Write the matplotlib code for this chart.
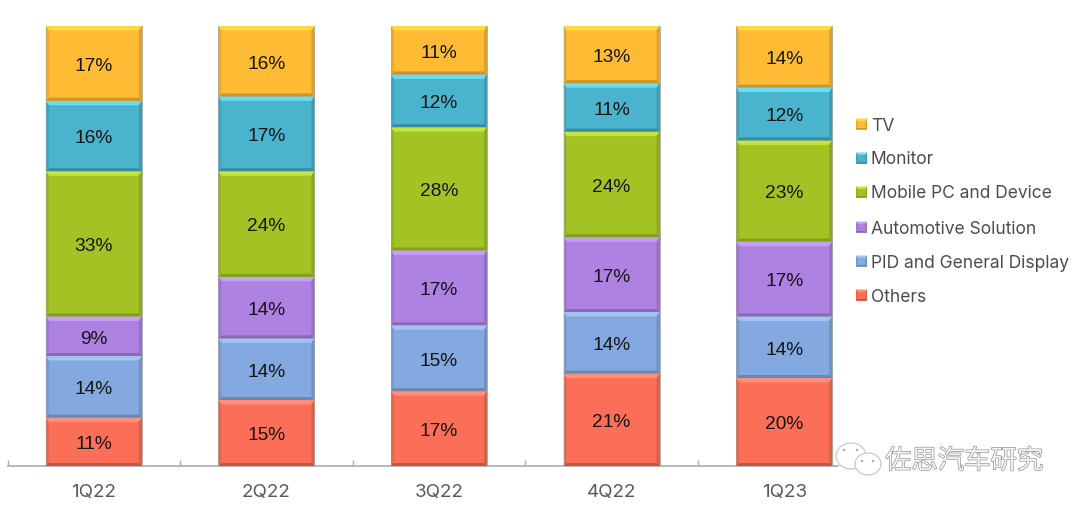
import matplotlib
matplotlib.use("Agg")
import matplotlib.pyplot as plt
from matplotlib.patches import Polygon, Ellipse
import matplotlib.patheffects as pe

# data, bottom of the stack first
quarters = ["1Q22", "2Q22", "3Q22", "4Q22", "1Q23"]
series_names = ["Others", "PID and General Display", "Automotive Solution",
                "Mobile PC and Device", "Monitor", "TV"]
others = [11, 15, 17, 21, 20]
pid_display = [14, 14, 15, 14, 14]
automotive = [9, 14, 17, 17, 17]
mobile_pc = [33, 24, 28, 24, 23]
monitor = [16, 17, 12, 11, 12]
tv = [17, 16, 11, 13, 14]
series_values = [others, pid_display, automotive, mobile_pc, monitor, tv]

# face, top bevel, side bevel, bottom bevel
colors = [
    ("#FB6E57", "#FF8F78", "#D9604C", "#C25544"),
    ("#84A8E0", "#A2C2F2", "#7290C0", "#6A86B2"),
    ("#AD82E3", "#C5A0F2", "#9570C4", "#8A68B6"),
    ("#A3C324", "#C4E63A", "#8CA81F", "#82A01C"),
    ("#4AB4CE", "#68DDF3", "#3F9BB2", "#3A8CA2"),
    ("#FFBB33", "#FFD940", "#DCA12C", "#CC952A"),
]

W, H = 1080, 509
fig = plt.figure(figsize=(W / 100, H / 100), dpi=100, facecolor="white")

# axes placed so that the baseline and the 100% level land where they should
left, bottom_px, top_px, cat_w = 7.5, 466, 26, 172.6
ax = fig.add_axes([left / W, (H - bottom_px) / H, 5 * cat_w / W, (bottom_px - top_px) / H])
ax.set_xlim(-0.5, 4.5)
ax.set_ylim(0, 100)
ax.patch.set_alpha(0)

bar_w = 0.556
px_y = (bottom_px - top_px) / 100      # pixels per percent
bev_x = 3 / cat_w
bev_top = 4.5 / px_y
bev_bot = 3 / px_y


def bevel(ax, x0, y0, w, h, col, dx, dtop, dbot, z):
    x1, y1 = x0 + w, y0 + h
    ix0, ix1, iy0, iy1 = x0 + dx, x1 - dx, y0 + dbot, y1 - dtop
    ax.add_patch(Polygon([(x0, y1), (x1, y1), (ix1, iy1), (ix0, iy1)], fc=col[1], ec="none", zorder=z, clip_on=False))
    ax.add_patch(Polygon([(x1, y1), (x1, y0), (ix1, iy0), (ix1, iy1)], fc=col[2], ec="none", zorder=z, clip_on=False))
    ax.add_patch(Polygon([(x0, y1), (x0, y0), (ix0, iy0), (ix0, iy1)], fc=col[2], ec="none", alpha=0.6, zorder=z, clip_on=False))
    ax.add_patch(Polygon([(x0, y0), (x1, y0), (ix1, iy0), (ix0, iy0)], fc=col[3], ec="none", zorder=z, clip_on=False))


base = [0] * len(quarters)
for values, col in zip(series_values, colors):
    bars = ax.bar(range(len(quarters)), values, bar_w, bottom=base, color=col[0],
                  edgecolor="#A8A8A8", linewidth=0.6, zorder=2)
    for b, v in zip(bars, values):
        bevel(ax, b.get_x(), b.get_y(), b.get_width(), b.get_height(), col, bev_x, bev_top, bev_bot, 3)
        ax.text(b.get_x() + b.get_width() / 2, b.get_y() + b.get_height() / 2 - 0.65, f"{v}%",
                ha="center", va="center", fontsize=13.8, color="#141414",
                family="Liberation Sans", zorder=5)
    base = [a + v for a, v in zip(base, values)]

# axis: only the bottom line, ticks between the categories
for s in ["top", "left", "right"]:
    ax.spines[s].set_visible(False)
ax.spines["bottom"].set_color("#ABABAB")
ax.spines["bottom"].set_linewidth(1.2)
ax.spines["bottom"].set_bounds(-0.5, 4.31)
ax.set_yticks([])
ax.set_xticks(range(len(quarters)))
ax.set_xticklabels(quarters, fontsize=13.5, color="#5A5A5A", family="Inter")
ax.tick_params(axis="x", which="major", length=0, pad=13)
ax.set_xticks([-0.5, 0.5, 1.5, 2.5, 3.5], minor=True)
ax.tick_params(axis="x", which="minor", direction="in", length=4.5, color="#ABABAB", width=1.0)

# legend drawn by hand, in pixels, because of the bevelled keys
legend_ax = fig.add_axes([0, 0, 1, 1], facecolor="none")
legend_ax.set_xlim(0, W)
legend_ax.set_ylim(H, 0)
legend_ax.axis("off")
legend_y = [295, 261, 227, 192, 158, 124]
for name, col, y in zip(series_names, colors, legend_y):
    legend_ax.add_patch(Polygon([(856, y - 5.5), (867, y - 5.5), (867, y + 5.5), (856, y + 5.5)],
                                fc=col[0], ec="none", zorder=2))
    bevel(legend_ax, 856, y + 5.5, 11, -11, col, 1.5, -2.5, -1.5, 3)
    legend_ax.text(871, y + 2, name, ha="left", va="center", fontsize=12.55, color="#4D4D4D", family="Inter")

# watermark
wm_fx = [pe.withStroke(linewidth=0.9, foreground="#8C8C8C")]
legend_ax.text(885, 461, "佐思汽车研究", ha="left", va="center", fontsize=19, color="#F4F4F4",
               family=["Noto Sans CJK SC", "DejaVu Sans"], path_effects=wm_fx, zorder=6)
for cx, cy, w, h in [(851, 456, 30, 26), (868, 464, 26, 22)]:
    legend_ax.add_patch(Ellipse((cx, cy), w, h, fc="white", ec="#C8C8C8", lw=0.9, zorder=5))
for dx, dy in [(844, 450), (857, 450), (862, 461), (873, 461)]:
    legend_ax.add_patch(Ellipse((dx, dy), 2.6, 2.6, fc="#AFAFAF", ec="none", zorder=6))

fig.savefig("out.png", dpi=100)
